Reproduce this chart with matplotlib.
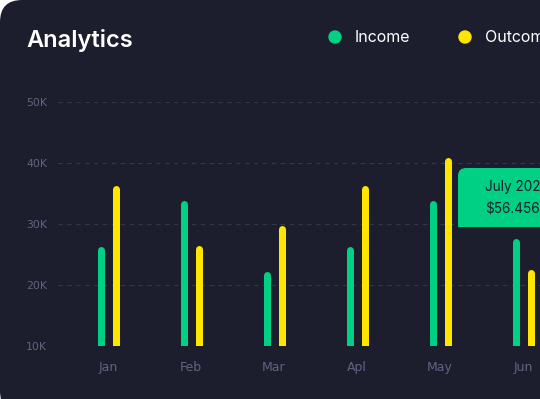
import matplotlib.pyplot as plt
from matplotlib.patches import FancyBboxPatch, Rectangle

# values (thousands)
months = ["Jan", "Feb", "Mar", "Apl", "May", "Jun"]
income = [25.8, 33.3, 21.7, 25.8, 33.3, 27.1]
outcome = [35.8, 25.9, 29.1, 35.8, 40.4, 21.9]
y_ticks = [10, 20, 30, 40, 50]
y_labels = ["10K", "20K", "30K", "40K", "50K"]
tooltip_title = "July 2020"
tooltip_value = "$56.456.90"

BG = "#1c1e2d"
GREEN = "#00d084"
YELLOW = "#ffe500"
MUTED = "#626382"
GRID = "#34364a"

W, H = 540, 399
fig = plt.figure(figsize=(W / 100, H / 100), dpi=100)
fig.patch.set_facecolor("white")

# dark card with rounded left corners
card = FancyBboxPatch((0, -14), W + 40, H + 14, boxstyle="round,pad=0,rounding_size=22",
                      transform=None, facecolor=BG, edgecolor="none", zorder=-5)
fig.patches.append(card)

# axes placed in pixels: x group centres at 108 + 83*i, 10K at y=53, 50K at y=297
step = 83.0
x0 = 108.0
left_px, right_px = 58, 560
ax = fig.add_axes([left_px / W, 53 / H, (right_px - left_px) / W, (297 - 53) / H])
ax.set_facecolor("none")
ax.set_xlim((left_px - x0) / step, (right_px - x0) / step)
ax.set_ylim(10, 50)

for s in ax.spines.values():
    s.set_visible(False)

ax.set_yticks(y_ticks)
ax.set_yticklabels(y_labels)
ax.yaxis.grid(True, color=GRID, linestyle=(0, (4, 4)), linewidth=0.8)
ax.set_axisbelow(True)
ax.tick_params(axis="y", length=0, pad=23, labelcolor=MUTED, labelsize=7.8)
for lab in ax.get_yticklabels():
    lab.set_horizontalalignment("left")
ax.set_xticks(range(len(months)))
ax.set_xticklabels(months)
ax.tick_params(axis="x", length=0, pad=11, labelcolor=MUTED, labelsize=9)

xs = list(range(len(months)))
off = 7.5 / step
bar_lw = 7 * 72 / 100
lc1 = ax.vlines([x - off for x in xs], 8, income, colors=GREEN, linewidth=bar_lw, zorder=3)
lc2 = ax.vlines([x + off for x in xs], 8, outcome, colors=YELLOW, linewidth=bar_lw, zorder=3)
for lc in (lc1, lc2):
    lc.set_capstyle("round")

# title and legend
fig.text(26 / W, 1 - 41 / H, "Analytics", color="white", fontsize=17, fontweight="semibold",
         family="Inter", va="center", ha="left")
for cx, color, label in [(335, GREEN, "Income"), (465, YELLOW, "Outcome")]:
    fig.patches.append(plt.Circle((cx, H - 37), 6, transform=None, color=color, zorder=5))
    fig.text((cx + 20) / W, 1 - 37 / H, label, color="white", fontsize=11.5, family="Inter",
             va="center", ha="left")

# tooltip: rounded top-left corner, square bottom
tip = FancyBboxPatch((458, H - 227), 120, 59, boxstyle="round,pad=0,rounding_size=8",
                     transform=None, facecolor=GREEN, edgecolor="none", zorder=6)
fig.patches.append(tip)
fig.patches.append(Rectangle((458, H - 227), 120, 30, transform=None, facecolor=GREEN,
                             edgecolor="none", zorder=6))
fig.text(485 / W, 1 - 187 / H, tooltip_title, color=BG, fontsize=9.8, family="Inter",
         va="center", ha="left", zorder=7)
fig.text(485 / W, 1 - 209 / H, tooltip_value, color=BG, fontsize=9.8, family="Inter",
         va="center", ha="left", zorder=7)

fig.savefig("out.png", dpi=100, facecolor=fig.get_facecolor())
